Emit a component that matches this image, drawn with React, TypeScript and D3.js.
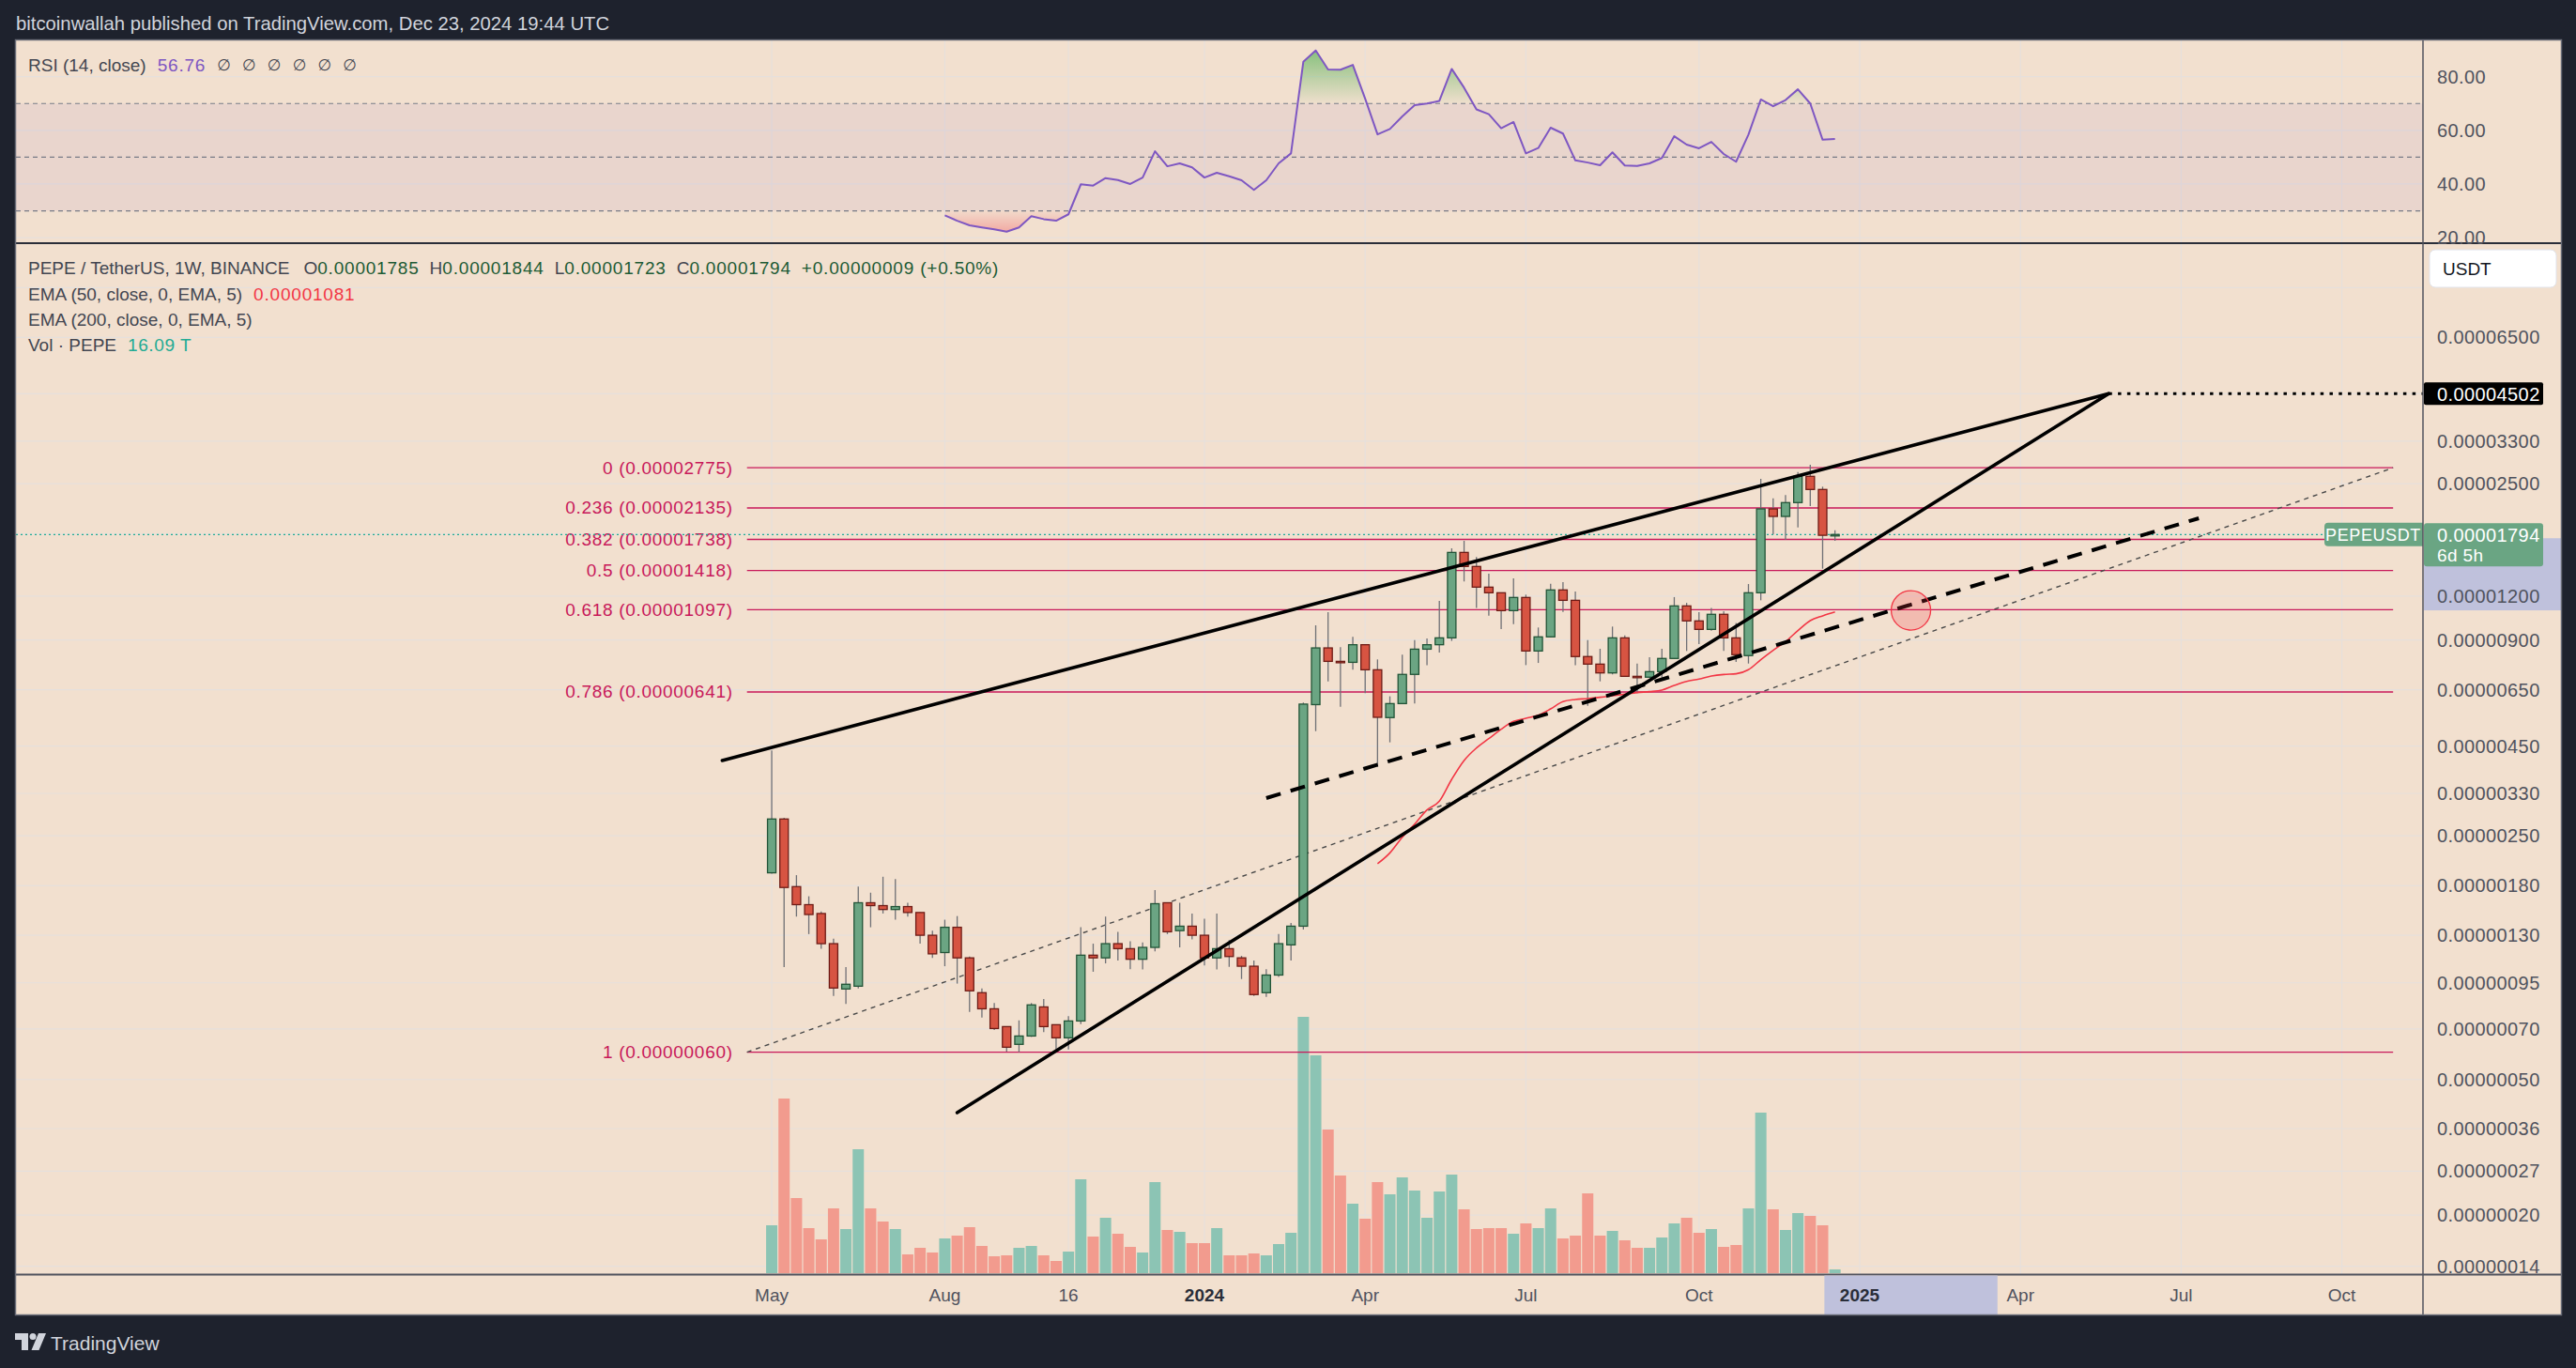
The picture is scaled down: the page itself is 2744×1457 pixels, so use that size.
import React from "react";
import * as d3 from "d3";

const FONT = "'Liberation Sans', Arial, Helvetica, sans-serif";

// ---------- DATA ----------
// weekly PEPE/USDT candles, first bar week of 2023-05-01; prices in units of 1e-6 USDT
const PRICE_UNIT = 1e-6;
const firstBarDate = "2023-05-01";
const opens = [1.96, 2.79, 1.79, 1.59, 1.5, 1.23, 0.912, 0.929, 1.61, 1.58, 1.54, 1.57, 1.51, 1.3, 1.16, 1.37, 1.12, 0.89, 0.8, 0.711, 0.632, 0.668, 0.81, 0.72, 0.66, 0.738, 1.14, 1.12, 1.23, 1.19, 1.11, 1.2, 1.61, 1.34, 1.38, 1.3, 1.12, 1.19, 1.12, 1.06, 0.89, 1.0, 1.22, 1.38, 5.9, 8.55, 7.83, 7.78, 8.73, 7.41, 5.42, 5.94, 7.19, 8.48, 8.73, 9.13, 15.96, 14.56, 12.72, 12.26, 10.91, 11.89, 8.38, 9.19, 12.49, 11.67, 8.08, 7.69, 7.26, 9.13, 7.1, 7.06, 7.32, 7.98, 11.25, 10.2, 9.65, 10.65, 9.13, 8.13, 12.26, 21.21, 20.19, 22.1, 26.24, 24.08, 17.85];
const highs = [4.37, 2.81, 1.93, 1.68, 1.52, 1.27, 1.054, 1.79, 1.72, 1.91, 1.88, 1.61, 1.51, 1.34, 1.44, 1.475, 1.13, 0.916, 0.831, 0.711, 0.741, 0.831, 0.854, 0.72, 0.762, 1.37, 1.23, 1.47, 1.33, 1.25, 1.24, 1.75, 1.61, 1.61, 1.5, 1.45, 1.5, 1.26, 1.135, 1.1, 1.04, 1.31, 1.41, 5.98, 9.91, 10.8, 8.59, 9.19, 8.73, 7.93, 6.23, 8.18, 9.0, 9.1, 11.63, 16.39, 17.22, 15.48, 13.89, 12.26, 13.47, 12.11, 9.77, 13.01, 13.15, 12.36, 9.0, 8.5, 9.83, 9.28, 7.72, 8.04, 8.5, 11.92, 11.48, 10.8, 11.11, 10.87, 10.07, 12.98, 25.81, 22.74, 23.21, 27.0, 28.29, 24.52, 18.44];
const lows = [1.95, 1.054, 1.47, 1.31, 1.19, 0.871, 0.826, 0.916, 1.37, 1.5, 1.44, 1.47, 1.23, 1.12, 1.06, 0.945, 0.784, 0.755, 0.695, 0.602, 0.6, 0.664, 0.685, 0.611, 0.611, 0.723, 1.022, 1.08, 1.1, 1.04, 1.037, 1.17, 1.31, 1.2, 1.265, 1.065, 1.037, 1.056, 0.974, 0.871, 0.866, 0.987, 1.1, 1.35, 4.96, 6.87, 5.82, 7.41, 6.36, 3.93, 4.61, 5.94, 5.94, 7.64, 8.29, 8.95, 13.2, 11.11, 10.56, 9.67, 9.99, 7.64, 7.75, 9.15, 10.82, 7.64, 5.85, 6.87, 7.19, 7.1, 6.36, 7.04, 7.04, 7.96, 8.38, 8.76, 9.57, 8.38, 7.8, 7.72, 11.67, 17.97, 17.32, 18.8, 21.6, 14.35, 17.23];
const closes = [2.79, 1.78, 1.59, 1.49, 1.23, 0.918, 0.941, 1.61, 1.58, 1.54, 1.57, 1.51, 1.3, 1.15, 1.37, 1.12, 0.901, 0.8, 0.702, 0.62, 0.668, 0.821, 0.711, 0.66, 0.738, 1.14, 1.12, 1.23, 1.19, 1.11, 1.2, 1.6, 1.33, 1.38, 1.3, 1.12, 1.19, 1.13, 1.06, 0.879, 1.0, 1.23, 1.38, 5.92, 8.55, 7.83, 7.8, 8.73, 7.41, 5.43, 5.94, 7.19, 8.48, 8.73, 9.13, 15.96, 14.56, 12.72, 12.26, 10.91, 11.89, 8.38, 9.19, 12.49, 11.67, 8.08, 7.69, 7.26, 9.13, 7.1, 7.09, 7.32, 7.98, 11.25, 10.2, 9.65, 10.65, 9.13, 8.18, 12.26, 21.21, 20.19, 22.1, 26.24, 24.08, 17.85, 17.94];
// weekly volume, trillions of PEPE
const volumes = [204, 744, 320, 192, 144, 276, 188, 528, 276, 220, 188, 80, 108, 88, 148, 160, 196, 116, 72, 76, 108, 116, 76, 52, 92, 400, 156, 236, 168, 112, 88, 388, 184, 176, 128, 128, 192, 76, 76, 84, 76, 124, 172, 1092, 928, 612, 416, 296, 232, 388, 336, 408, 352, 236, 348, 420, 272, 188, 192, 192, 168, 212, 192, 276, 148, 160, 340, 160, 180, 140, 108, 108, 152, 212, 236, 172, 188, 112, 120, 276, 684, 272, 184, 256, 244, 204, 16.09];
// RSI(14) starting at bar 14
const RSI_START = 14;
const rsiValues = [28.3, 26.3, 24.6, 23.8, 23.1, 22.2, 23.8, 28.0, 26.9, 26.3, 28.7, 39.9, 39.4, 42.2, 41.5, 40.0, 42.4, 52.2, 46.6, 47.7, 46.2, 42.4, 44.2, 42.9, 41.4, 37.8, 41.4, 47.7, 51.4, 85.6, 89.8, 82.7, 82.6, 84.4, 71.8, 58.5, 60.5, 65.2, 69.4, 70.0, 71.0, 82.9, 75.9, 67.8, 66.0, 60.8, 63.1, 51.4, 53.4, 61.0, 58.8, 48.8, 48.0, 47.0, 51.8, 46.9, 46.7, 47.7, 49.7, 57.8, 54.7, 53.3, 55.7, 51.2, 48.3, 58.4, 71.5, 69.0, 71.3, 75.3, 70.0, 56.5, 56.76];
// EMA(50) starting at bar 49, units 1e-6
const EMA_START = 49;
const ema50 = [2.08, 2.234, 2.476, 2.699, 2.961, 3.135, 3.618, 4.093, 4.442, 4.723, 5.022, 5.286, 5.396, 5.507, 5.737, 6.015, 6.101, 6.139, 6.19, 6.253, 6.318, 6.383, 6.422, 6.488, 6.69, 6.871, 6.97, 7.114, 7.187, 7.217, 7.412, 7.914, 8.414, 8.91, 9.572, 10.22, 10.54, 10.81];

const priceTicks = [9e-5, 6.5e-5, 4.5e-5, 3.3e-5, 2.5e-5, 1.8e-5, 1.2e-5, 9e-6, 6.5e-6, 4.5e-6, 3.3e-6, 2.5e-6, 1.8e-6, 1.3e-6, 9.5e-7, 7e-7, 5e-7, 3.6e-7, 2.7e-7, 2e-7, 1.4e-7];
const hiddenPriceTicks = [9e-5];
const rsiTicks = [80, 60, 40, 20];
const timeTickDates = ["2023-05-01", "2023-08-07", "2023-10-16", "2024-01-01", "2024-04-01", "2024-07-01", "2024-10-07", "2025-01-06", "2025-04-07", "2025-07-07", "2025-10-06"];
const timeTickLabels = ["May", "Aug", "16", "2024", "Apr", "Jul", "Oct", "2025", "Apr", "Jul", "Oct"];
const boldTimeLabels = ["2024", "2025"];

// drawings
const fibRatios = [0, 0.236, 0.382, 0.5, 0.618, 0.786, 1];
const fibHigh = 2.7754e-5;
const fibLow = 6.0e-7;
const fibStartDate = "2023-04-17";
const fibEndDate = "2025-11-04";
const wedgeUpper = [["2023-04-03", 4.093e-6], ["2025-05-27", 4.502e-5]];
const wedgeLower = [["2023-08-14", 4.007e-7], ["2025-05-27", 4.502e-5]];
const dashedSupport = [["2024-02-05", 3.2e-6], ["2025-07-17", 1.995e-5]];
const apexPrice = 4.502e-5;
const circleCenter = ["2025-02-04", 1.093e-5];
const timeHighlight = ["2024-12-17", "2025-03-25"];
const priceHighlight = [1.751e-5, 1.093e-5];

const parse = d3.utcParse("%Y-%m-%d");

export default function App() {
  const W = 2744, H = 1457;
  const LEFT = 17, PR = 2581, FR = 2728;
  const TOP = 43, RSI_BOTTOM = 259, PRICE_BOTTOM = 1357, AXIS_BOTTOM = 1400;

  const x = d3.scaleTime()
    .domain([parse("2024-01-01")!, parse("2025-01-06")!])
    .range([1283, 1981]);
  const OFF = 1.1e-8;
  const yLog = d3.scaleLog().domain([6.5e-5 + OFF, 6.5e-6 + OFF]).range([359.4, 734.7]);
  const py = (p: number) => yLog(p + OFF);
  const yR = d3.scaleLinear().domain([20, 80]).range([253.1, 81.7]);
  const yV = d3.scaleLinear().domain([0, 1092]).range([1356, 1083]);

  const start = parse(firstBarDate)!;
  const barDate = (i: number) => d3.utcDay.offset(start, i * 7);
  const bx = (i: number) => x(barDate(i));

  const green = "#6ba583", greenStroke = "#225437";
  const red = "#d75442", redStroke = "#6e1c16";
  const volGreen = "#8cc4b4", volRed = "#f29b8e";
  const fibColor = "#c8195a";
  const gridColor = "#e6e0dc";
  const bg = "#f2e0cf";
  const axisText = "#50535e";
  const legendText = "#434651";
  const valGreen = "#1d5b35";

  const n = closes.length;
  const last = n - 1;
  const lastClose = closes[last] * PRICE_UNIT;
  const prevClose = closes[last - 1] * PRICE_UNIT;
  const change = lastClose - prevClose;
  const pct = (change / prevClose) * 100;

  const rsiPts = rsiValues.map((v, k) => ({ x: bx(RSI_START + k), v }));
  const rsiLine = d3.line<any>().x((d) => d.x).y((d) => yR(d.v));
  const areaHi = d3.area<any>().x((d) => d.x).y0(yR(70)).y1((d) => yR(d.v));
  const areaLo = d3.area<any>().x((d) => d.x).y0(yR(30)).y1((d) => yR(d.v));

  const emaLine = d3.line<any>().x((d) => d.x).y((d) => py(d.v))
    .curve(d3.curveMonotoneX)(ema50.map((v, k) => ({ x: bx(EMA_START + k), v: v * PRICE_UNIT })));

  const seg = (pts: any[]) => ({
    x1: x(parse(pts[0][0])!), y1: py(pts[0][1]),
    x2: x(parse(pts[1][0])!), y2: py(pts[1][1]),
  });
  const up = seg(wedgeUpper), lo = seg(wedgeLower), ds = seg(dashedSupport);
  const fibX1 = x(parse(fibStartDate)!), fibX2 = x(parse(fibEndDate)!);
  const fibLevels = fibRatios.map((r) => ({ r, p: fibHigh - r * (fibHigh - fibLow) }));
  const apexX = x(parse(wedgeUpper[1][0] as string)!);
  const apexY = py(apexPrice);
  const cc = { x: x(parse(circleCenter[0] as string)!), y: py(circleCenter[1] as number) };
  const thX1 = x(parse(timeHighlight[0])!), thX2 = x(parse(timeHighlight[1])!);
  const phY1 = py(priceHighlight[0]), phY2 = py(priceHighlight[1]);
  const lastY = py(lastClose);

  const fmt8 = (v: number) => v.toFixed(8);
  const LS = 0.8; // digit spacing in legends

  return (
    <div style={{ position: "absolute", left: 0, top: 0, width: W, height: H }}>
      <svg width={W} height={H} style={{ display: "block", fontFamily: FONT }}>
        <defs>
          <clipPath id="pricePane"><rect x={LEFT} y={RSI_BOTTOM + 1} width={PR - LEFT} height={PRICE_BOTTOM - RSI_BOTTOM - 1} /></clipPath>
          <clipPath id="rsiPane"><rect x={LEFT} y={TOP} width={PR - LEFT} height={RSI_BOTTOM - TOP} /></clipPath>
          <clipPath id="rsiHi"><rect x={LEFT} y={TOP} width={PR - LEFT} height={yR(70) - TOP} /></clipPath>
          <clipPath id="rsiLo"><rect x={LEFT} y={yR(30)} width={PR - LEFT} height={RSI_BOTTOM - yR(30)} /></clipPath>
          <linearGradient id="gHi" gradientUnits="userSpaceOnUse" x1="0" x2="0" y1={yR(90)} y2={yR(70)}>
            <stop offset="0" stopColor="#4caf50" stopOpacity={0.65} />
            <stop offset="1" stopColor="#4caf50" stopOpacity={0.02} />
          </linearGradient>
          <linearGradient id="gLo" gradientUnits="userSpaceOnUse" x1="0" x2="0" y1={yR(30)} y2={yR(20)}>
            <stop offset="0" stopColor="#f23645" stopOpacity={0.03} />
            <stop offset="1" stopColor="#f23645" stopOpacity={0.4} />
          </linearGradient>
        </defs>

        {/* page background */}
        <rect x={0} y={0} width={W} height={H} fill="#1e222d" />
        <text x={17} y={25} fill="#d1d4dc" fontSize={20.3} dominantBaseline="central">
          bitcoinwallah published on TradingView.com, Dec 23, 2024 19:44 UTC
        </text>

        {/* chart background */}
        <rect x={LEFT} y={TOP} width={FR - LEFT} height={AXIS_BOTTOM - TOP} fill={bg} />

        {/* vertical grid */}
        {timeTickDates.map((d) => (
          <line key={"vg" + d} x1={x(parse(d)!)} x2={x(parse(d)!)} y1={TOP} y2={PRICE_BOTTOM} stroke={gridColor} strokeWidth={1.2} />
        ))}
        {/* RSI grid */}
        {rsiTicks.map((t) => (
          <line key={"rg" + t} x1={LEFT} x2={PR} y1={yR(t)} y2={yR(t)} stroke={gridColor} strokeWidth={1.2} />
        ))}
        {/* price grid */}
        {priceTicks.map((t) => (
          <line key={"pg" + t} x1={LEFT} x2={PR} y1={py(t)} y2={py(t)} stroke={gridColor} strokeWidth={1.2} />
        ))}

        {/* RSI pane */}
        <g clipPath="url(#rsiPane)">
          <rect x={LEFT} y={yR(70)} width={PR - LEFT} height={yR(30) - yR(70)} fill="#7e57c2" fillOpacity={0.08} />
          {[70, 50, 30].map((lv) => (
            <line key={"rl" + lv} x1={LEFT} x2={PR} y1={yR(lv)} y2={yR(lv)} stroke="#787b86" strokeWidth={1.2} strokeDasharray="5 4" />
          ))}
          <path d={areaHi(rsiPts) || ""} fill="url(#gHi)" clipPath="url(#rsiHi)" />
          <path d={areaLo(rsiPts) || ""} fill="url(#gLo)" clipPath="url(#rsiLo)" />
          <path d={rsiLine(rsiPts) || ""} fill="none" stroke="#7e57c2" strokeWidth={2} strokeLinejoin="round" />
        </g>
        <text x={30} y={69} fontSize={19} dominantBaseline="central" fill={legendText}>
          <tspan>RSI (14, close)</tspan>
          <tspan dx={12} fill="#7e57c2" letterSpacing={LS}>{rsiValues[rsiValues.length - 1].toFixed(2)}</tspan>
          <tspan dx={12} fill={legendText} fontFamily="'DejaVu Sans', sans-serif" fontSize={17} letterSpacing={12}>∅∅∅∅∅∅</tspan>
        </text>

        {/* price pane */}
        <g clipPath="url(#pricePane)">
          {/* volume */}
          {volumes.map((v, i) => (
            <rect key={"v" + i} x={bx(i) - 6} y={yV(v)} width={12} height={yV(0) - yV(v)}
              fill={closes[i] >= opens[i] ? volGreen : volRed} />
          ))}

          {/* fib levels */}
          {fibLevels.map((f) => (
            <line key={"fl" + f.r} x1={fibX1} x2={fibX2} y1={py(f.p)} y2={py(f.p)} stroke={fibColor} strokeWidth={1.4} />
          ))}
          <line x1={fibX1} y1={py(fibLow)} x2={fibX2} y2={py(fibHigh)} stroke="#4a4a4a" strokeWidth={1.4} strokeDasharray="5 5" />
          {fibLevels.map((f) => (
            <text key={"ft" + f.r} x={fibX1 - 15} y={py(f.p)} textAnchor="end" dominantBaseline="central"
              fontSize={19} letterSpacing={0.7} fill={fibColor}>
              {`${f.r} (${fmt8(f.p)})`}
            </text>
          ))}

          {/* current price line */}
          <line x1={LEFT} x2={PR} y1={lastY} y2={lastY} stroke="#22ab94" strokeWidth={1.2} strokeDasharray="2 3" />

          {/* candles */}
          {closes.map((c, i) => {
            const o = opens[i] * PRICE_UNIT, cl = c * PRICE_UNIT;
            const h = highs[i] * PRICE_UNIT, l = lows[i] * PRICE_UNIT;
            const isUp = cl >= o;
            const yTop = py(Math.max(o, cl)), yBot = py(Math.min(o, cl));
            const cx = bx(i);
            return (
              <g key={"c" + i}>
                <line x1={cx} x2={cx} y1={py(h)} y2={py(l)} stroke="#6f7075" strokeWidth={1.3} />
                <rect x={cx - 4.5} y={yTop} width={9} height={Math.max(1.5, yBot - yTop)}
                  fill={isUp ? green : red} stroke={isUp ? greenStroke : redStroke} strokeWidth={1.3} />
              </g>
            );
          })}

          {/* EMA 50 */}
          <path d={emaLine || ""} fill="none" stroke="#f23645" strokeWidth={1.6} />

          {/* trendlines */}
          <line {...up} stroke="#000" strokeWidth={3.6} strokeLinecap="round" />
          <line {...lo} stroke="#000" strokeWidth={3.6} strokeLinecap="round" />
          <line {...ds} stroke="#000" strokeWidth={4} strokeDasharray="16 11" />
          <line x1={apexX} x2={PR} y1={apexY} y2={apexY} stroke="#000" strokeWidth={3} strokeDasharray="3.5 6.3" />

          {/* circle */}
          <circle cx={cc.x} cy={cc.y} r={21} fill="#f23645" fillOpacity={0.22} stroke="#f23645" strokeWidth={1.3} />

          {/* symbol tag */}
          <path d={`M${PR} ${lastY - 12.5} H${PR - 101} a4 4 0 0 0 -4 4 V${lastY + 8.5} a4 4 0 0 0 4 4 H${PR} Z`} fill="#6aa583" />
          <text x={PR - 53} y={lastY + 0.5} textAnchor="middle" dominantBaseline="central" fill="#fff" fontSize={18} letterSpacing={0.6}>PEPEUSDT</text>
        </g>

        {/* legend of price pane */}
        <text x={30} y={285} fontSize={19} dominantBaseline="central" fill={legendText}>
          <tspan>PEPE / TetherUS, 1W, BINANCE</tspan>
          <tspan dx={15}>O</tspan><tspan fill={valGreen} letterSpacing={LS}>{fmt8(opens[last] * PRICE_UNIT)}</tspan>
          <tspan dx={11}>H</tspan><tspan fill={valGreen} letterSpacing={LS}>{fmt8(highs[last] * PRICE_UNIT)}</tspan>
          <tspan dx={11}>L</tspan><tspan fill={valGreen} letterSpacing={LS}>{fmt8(lows[last] * PRICE_UNIT)}</tspan>
          <tspan dx={11}>C</tspan><tspan fill={valGreen} letterSpacing={LS}>{fmt8(lastClose)}</tspan>
          <tspan dx={11} fill={valGreen} letterSpacing={LS}>{`${change >= 0 ? "+" : ""}${fmt8(change)} (${pct >= 0 ? "+" : ""}${pct.toFixed(2)}%)`}</tspan>
        </text>
        <text x={30} y={313} fontSize={19} dominantBaseline="central" fill={legendText}>
          <tspan>EMA (50, close, 0, EMA, 5)</tspan>
          <tspan dx={12} fill="#f23645" letterSpacing={LS}>{fmt8(ema50[ema50.length - 1] * PRICE_UNIT)}</tspan>
        </text>
        <text x={30} y={340} fontSize={19} dominantBaseline="central" fill={legendText}>EMA (200, close, 0, EMA, 5)</text>
        <text x={30} y={367} fontSize={19} dominantBaseline="central" fill={legendText}>
          <tspan>Vol · PEPE</tspan>
          <tspan dx={12} fill="#22ab94" letterSpacing={0.6}>{`${volumes[last].toFixed(2)} T`}</tspan>
        </text>

        {/* pane separators / borders */}
        <line x1={LEFT} x2={FR} y1={RSI_BOTTOM} y2={RSI_BOTTOM} stroke="#2a2e39" strokeWidth={2} />
        <line x1={LEFT} x2={FR} y1={PRICE_BOTTOM + 0.5} y2={PRICE_BOTTOM + 0.5} stroke="#50535e" strokeWidth={2} />
        <line x1={PR} x2={PR} y1={TOP} y2={AXIS_BOTTOM} stroke="#50535e" strokeWidth={1.5} />

        {/* price axis */}
        <rect x={PR + 1} y={phY1} width={FR - PR - 1} height={phY2 - phY1} fill="#bfc1dc" />
        {rsiTicks.map((t) => (
          <text key={"rt" + t} x={2596} y={yR(t)} dominantBaseline="central" fontSize={20} fill={axisText} letterSpacing={0.4}>{t.toFixed(2)}</text>
        ))}
        {priceTicks.filter((t) => !hiddenPriceTicks.includes(t)).map((t) => (
          <text key={"pt" + t} x={2596} y={py(t)} dominantBaseline="central" fontSize={20} fill={axisText} letterSpacing={0.4}>{fmt8(t)}</text>
        ))}
        {/* USDT button */}
        <rect x={2588} y={266} width={135} height={40} rx={6} fill="#ffffff" stroke="#e0e3eb" />
        <text x={2602} y={286.5} dominantBaseline="central" fontSize={19} fill="#131722">USDT</text>
        {/* apex price label */}
        <rect x={PR + 1} y={apexY - 12} width={127} height={24} rx={2} fill="#000" />
        <text x={2596} y={apexY + 0.5} dominantBaseline="central" fontSize={20} fill="#fff" letterSpacing={0.4}>{fmt8(apexPrice)}</text>
        {/* last price label */}
        <rect x={PR + 1} y={lastY - 12} width={127} height={46} rx={3} fill="#6aa583" />
        <text x={2596} y={lastY + 0.5} dominantBaseline="central" fontSize={20} fill="#fff" letterSpacing={0.4}>{fmt8(lastClose)}</text>
        <text x={2596} y={lastY + 22} dominantBaseline="central" fontSize={19} fill="#fff" letterSpacing={0.4}>6d 5h</text>

        {/* time axis */}
        <rect x={thX1} y={PRICE_BOTTOM + 1.5} width={thX2 - thX1} height={AXIS_BOTTOM - PRICE_BOTTOM - 1.5} fill="#bfc1dc" />
        {timeTickDates.map((d, k) => (
          <text key={"tt" + d} x={x(parse(d)!)} y={1379} textAnchor="middle" dominantBaseline="central"
            fontSize={19} fill={boldTimeLabels.includes(timeTickLabels[k]) ? "#2a2e39" : axisText}
            fontWeight={boldTimeLabels.includes(timeTickLabels[k]) ? "bold" : "normal"}>
            {timeTickLabels[k]}
          </text>
        ))}

        {/* frame */}
        <rect x={LEFT - 0.5} y={TOP - 0.5} width={FR - LEFT + 1} height={AXIS_BOTTOM - TOP + 1} fill="none" stroke="#6a6d78" strokeWidth={1.5} />

        {/* TradingView footer */}
        <g fill="#d1d4dc">
          <path d="M16 1420 h14 v18 h-7 v-11 h-7 z" />
          <circle cx={35} cy={1423.5} r={3.5} />
          <path d="M41 1420 h8 l-7.5 18 h-8 z" />
          <text x={54} y={1430} dominantBaseline="central" fontSize={21}>TradingView</text>
        </g>
      </svg>
    </div>
  );
}
